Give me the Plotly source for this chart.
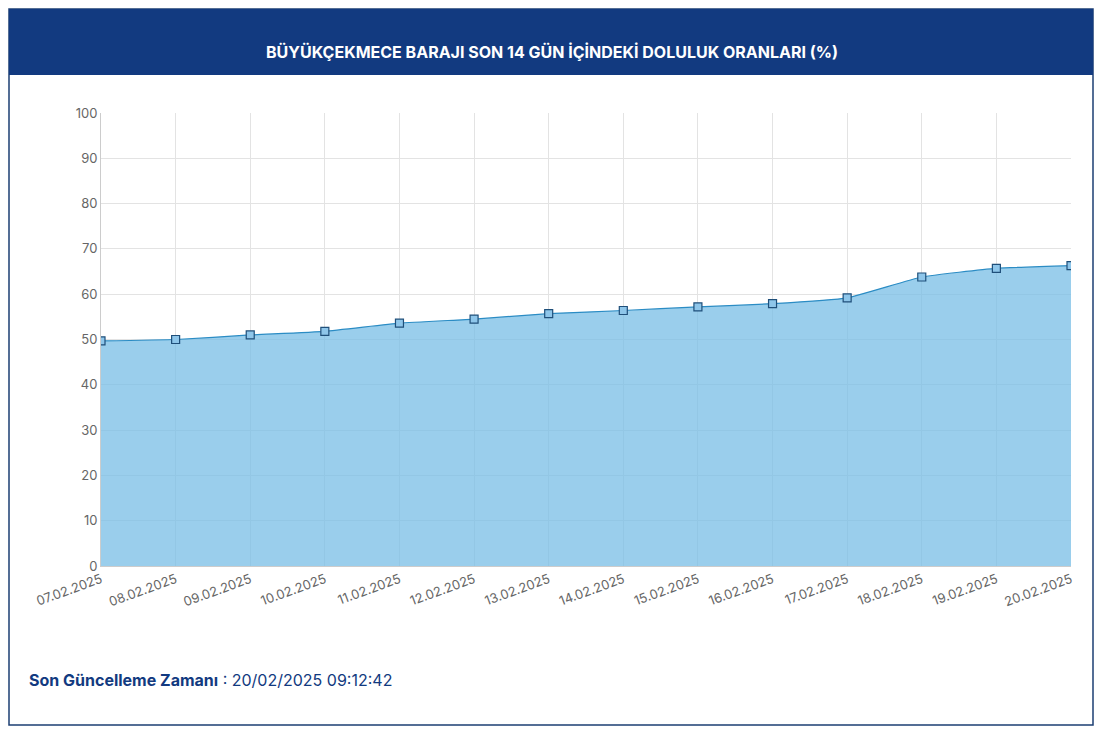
import plotly.graph_objects as go

dates = ["07.02.2025", "08.02.2025", "09.02.2025", "10.02.2025", "11.02.2025",
         "12.02.2025", "13.02.2025", "14.02.2025", "15.02.2025", "16.02.2025",
         "17.02.2025", "18.02.2025", "19.02.2025", "20.02.2025"]
doluluk = [49.7, 50.0, 51.0, 51.8, 53.6, 54.5, 55.7, 56.4, 57.2, 57.9,
           59.2, 63.8, 65.7, 66.3]

# the page puts an 8px margin around the figure, so work in shifted pixels
OFF = 8
W, H = 1103 - 2 * OFF, 735 - 2 * OFF
L, R, T, B = 101 - OFF, 32 - OFF, 113 - OFF, 169 - OFF
pw, ph = W - L - R, H - T - B


def px(x):
    return (x - OFF - L) / pw


def py(y):
    return (H - B - (y - OFF)) / ph


fig = go.Figure()
fig.add_trace(go.Scatter(
    x=dates, y=doluluk, mode="lines+markers",
    line=dict(color="#2b8cc4", width=1.2, shape="spline", smoothing=0.4),
    fill="tozeroy", fillcolor="rgba(120,190,230,0.75)",
    marker=dict(symbol="square", size=8, color="#8ec6ea",
                line=dict(color="#1f4f7a", width=1.2)),
    hoverinfo="x+y",
))

fig.update_layout(
    width=W, height=H,
    margin=dict(l=L, r=R, t=T, b=B),
    paper_bgcolor="white", plot_bgcolor="white",
    showlegend=False,
    font=dict(family="Inter, Lato, sans-serif", color="#666", size=13),
    xaxis=dict(type="category", range=[0, len(dates) - 1], tickangle=-20,
               showgrid=True, gridcolor="#e3e3e3", showline=True,
               linecolor="#ccc", ticks="", tickfont=dict(size=13)),
    yaxis=dict(range=[0, 100], dtick=10, showgrid=True, gridcolor="#e3e3e3",
               showline=True, linecolor="#ccc", ticks="", zeroline=False,
               tickfont=dict(size=13)),
    shapes=[
        dict(type="rect", xref="paper", yref="paper",
             x0=px(OFF + 1), x1=px(OFF + W - 2), y0=py(OFF + H - 2), y1=py(OFF + 1),
             line=dict(color="#1d3f73", width=1.5), fillcolor="rgba(0,0,0,0)",
             layer="below"),
        dict(type="rect", xref="paper", yref="paper",
             x0=px(OFF + 1), x1=px(OFF + W - 2), y0=py(75), y1=py(OFF + 1),
             line=dict(width=0), fillcolor="#123a80", layer="below"),
    ],
    annotations=[
        dict(text="<b>BÜYÜKÇEKMECE BARAJI SON 14 GÜN İÇİNDEKİ DOLULUK ORANLARI (%)</b>",
             xref="paper", yref="paper", x=px(1103 / 2), y=py(40),
             showarrow=False, font=dict(color="white", size=16)),
        dict(text="<b>Son Güncelleme Zamanı</b> : 20/02/2025 09:12:42",
             xref="paper", yref="paper", x=px(27), y=py(692),
             xanchor="left", showarrow=False,
             font=dict(color="#123a80", size=16)),
    ],
)

fig.write_html("out.html")
